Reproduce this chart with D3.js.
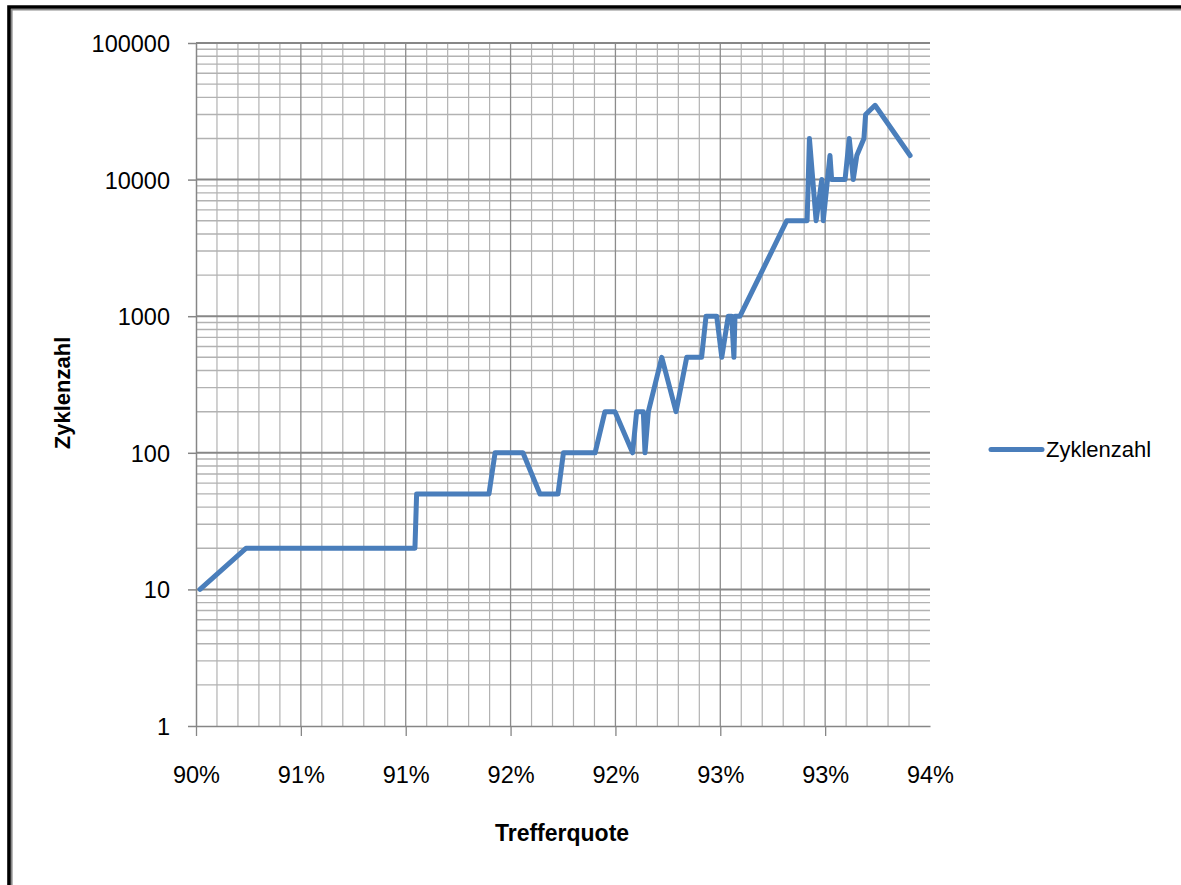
<!DOCTYPE html>
<html>
<head>
<meta charset="utf-8">
<script src="https://cdn.jsdelivr.net/npm/d3@7"></script>
<style>
  html, body { margin: 0; padding: 0; background: #ffffff; }
  svg { display: block; }
  text { font-family: "Liberation Sans", Arial, sans-serif; fill: #000; }
</style>
</head>
<body>
<svg id="chart" width="1181" height="885"></svg>
<script>
// ---- data ----
const seriesName = "Zyklenzahl";
const hitRate = [
  0.90019, 0.90238, 0.91044, 0.91052, 0.91397, 0.91426, 0.91559, 0.91640, 0.91726, 0.91752,
  0.91903, 0.91950, 0.91998, 0.92082, 0.92101, 0.92133, 0.92141, 0.92157, 0.92221, 0.92289,
  0.92340, 0.92411, 0.92432, 0.92483, 0.92507, 0.92538, 0.92554, 0.92565, 0.92570, 0.92594,
  0.92817, 0.92914, 0.92925, 0.92957, 0.92984, 0.92991, 0.93023, 0.93031, 0.93095, 0.93115,
  0.93134, 0.93151, 0.93185, 0.93193, 0.93238, 0.93405
];
const cycles = [
  10, 20, 20, 50, 50, 100, 100, 50, 50, 100,
  100, 200, 200, 100, 200, 200, 100, 200, 500, 200,
  500, 500, 1000, 1000, 500, 1000, 1000, 500, 1000, 1000,
  5000, 5000, 20000, 5000, 10000, 5000, 15000, 10000, 10000, 20000,
  10000, 15000, 20000, 30000, 35000, 15000
];
const xTickValues = [0.900, 0.905, 0.910, 0.915, 0.920, 0.925, 0.930, 0.935];
const xTickLabels = ["90%", "91%", "91%", "92%", "92%", "93%", "93%", "94%"];
const yTickValues = [1, 10, 100, 1000, 10000, 100000];
const yTickLabels = ["1", "10", "100", "1000", "10000", "100000"];
const xTitle = "Trefferquote";
const yTitle = "Zyklenzahl";

// ---- layout ----
const svg = d3.select("#chart");
const L = 196, R = 930, T = 43, B = 726;
const x = d3.scaleLinear().domain([0.900, 0.935]).range([L, R]);
const y = d3.scaleLog().domain([1, 100000]).range([B, T]);

// outer frame (top & left edges visible)
svg.append("path").attr("d", "M9,885 V7 H1181").attr("fill", "none")
  .attr("stroke", "#000").attr("stroke-width", 3.6);
svg.append("path").attr("d", "M11.8,885 V9.8 H1181").attr("fill", "none")
  .attr("stroke", "#8a8a8a").attr("stroke-width", 1.6);

// minor gridlines
const yMinor = [];
for (let d = 1; d < 100000; d *= 10) for (let k = 2; k <= 9; k++) yMinor.push(k * d);
const xMinor = d3.range(1, 35).filter(i => i % 5 !== 0).map(i => 0.900 + i * 0.001);

const grid = svg.append("g");
grid.selectAll(".ymin").data(yMinor).join("line")
  .attr("x1", L).attr("x2", R).attr("y1", d => y(d)).attr("y2", d => y(d))
  .attr("stroke", "#b2b2b2").attr("stroke-width", 1.4);
grid.selectAll(".xmin").data(xMinor).join("line")
  .attr("x1", d => x(d)).attr("x2", d => x(d)).attr("y1", T).attr("y2", B)
  .attr("stroke", "#b2b2b2").attr("stroke-width", 1.2);
// major gridlines
grid.selectAll(".xmaj").data(xTickValues.slice(1, -1)).join("line")
  .attr("x1", d => x(d)).attr("x2", d => x(d)).attr("y1", T).attr("y2", B)
  .attr("stroke", "#8c8c8c").attr("stroke-width", 1.3);
grid.selectAll(".ymaj").data(yTickValues.slice(1)).join("line")
  .attr("x1", L).attr("x2", R).attr("y1", d => y(d)).attr("y2", d => y(d))
  .attr("stroke", "#878787").attr("stroke-width", 2);

// axes
const xAxis = d3.axisBottom(x).tickValues(xTickValues)
  .tickFormat((d, i) => xTickLabels[i]).tickSize(10).tickSizeOuter(0).tickPadding(47);
const gx = svg.append("g").attr("transform", `translate(0,${B})`).call(xAxis);
gx.select(".domain").attr("stroke", "#868686").attr("stroke-width", 1.5);
gx.selectAll(".tick line").attr("stroke", "#868686").attr("stroke-width", 1.3)
  .filter((d, i) => i === xTickValues.length - 1).remove();
gx.selectAll(".tick text").attr("font-size", 23.5).attr("font-family", "Liberation Sans, Arial, sans-serif")
  .attr("fill", "#000").attr("dy", 0);

const yAxis = d3.axisLeft(y).tickValues(yTickValues)
  .tickFormat((d, i) => yTickLabels[i]).tickSize(8).tickSizeOuter(0).tickPadding(18);
const gy = svg.append("g").attr("transform", `translate(${L},0)`).call(yAxis);
gy.select(".domain").attr("stroke", "#868686").attr("stroke-width", 1.5);
gy.selectAll(".tick line").attr("stroke", "#868686").attr("stroke-width", 1.5);
gy.selectAll(".tick text").attr("font-size", 23.5).attr("font-family", "Liberation Sans, Arial, sans-serif")
  .attr("fill", "#000").attr("dy", "0.36em");

// series line
const line = d3.line().x((d, i) => x(hitRate[i])).y(d => y(d));
svg.append("path").datum(cycles).attr("d", line)
  .attr("fill", "none").attr("stroke", "#4a7ebb").attr("stroke-width", 5)
  .attr("stroke-linejoin", "round").attr("stroke-linecap", "round");

// axis titles
svg.append("text").attr("x", 562).attr("y", 841).attr("text-anchor", "middle")
  .attr("font-size", 23).attr("font-weight", "bold").text(xTitle);
svg.append("text").attr("transform", "translate(70,393) rotate(-90)").attr("text-anchor", "middle")
  .attr("font-size", 22).attr("font-weight", "bold").text(yTitle);

// legend
const lg = svg.append("g");
lg.append("line").attr("x1", 991).attr("x2", 1042).attr("y1", 449.5).attr("y2", 449.5)
  .attr("stroke", "#4a7ebb").attr("stroke-width", 5).attr("stroke-linecap", "round");
lg.append("text").attr("x", 1046).attr("y", 457).attr("font-size", 22).text(seriesName);
</script>
</body>
</html>
